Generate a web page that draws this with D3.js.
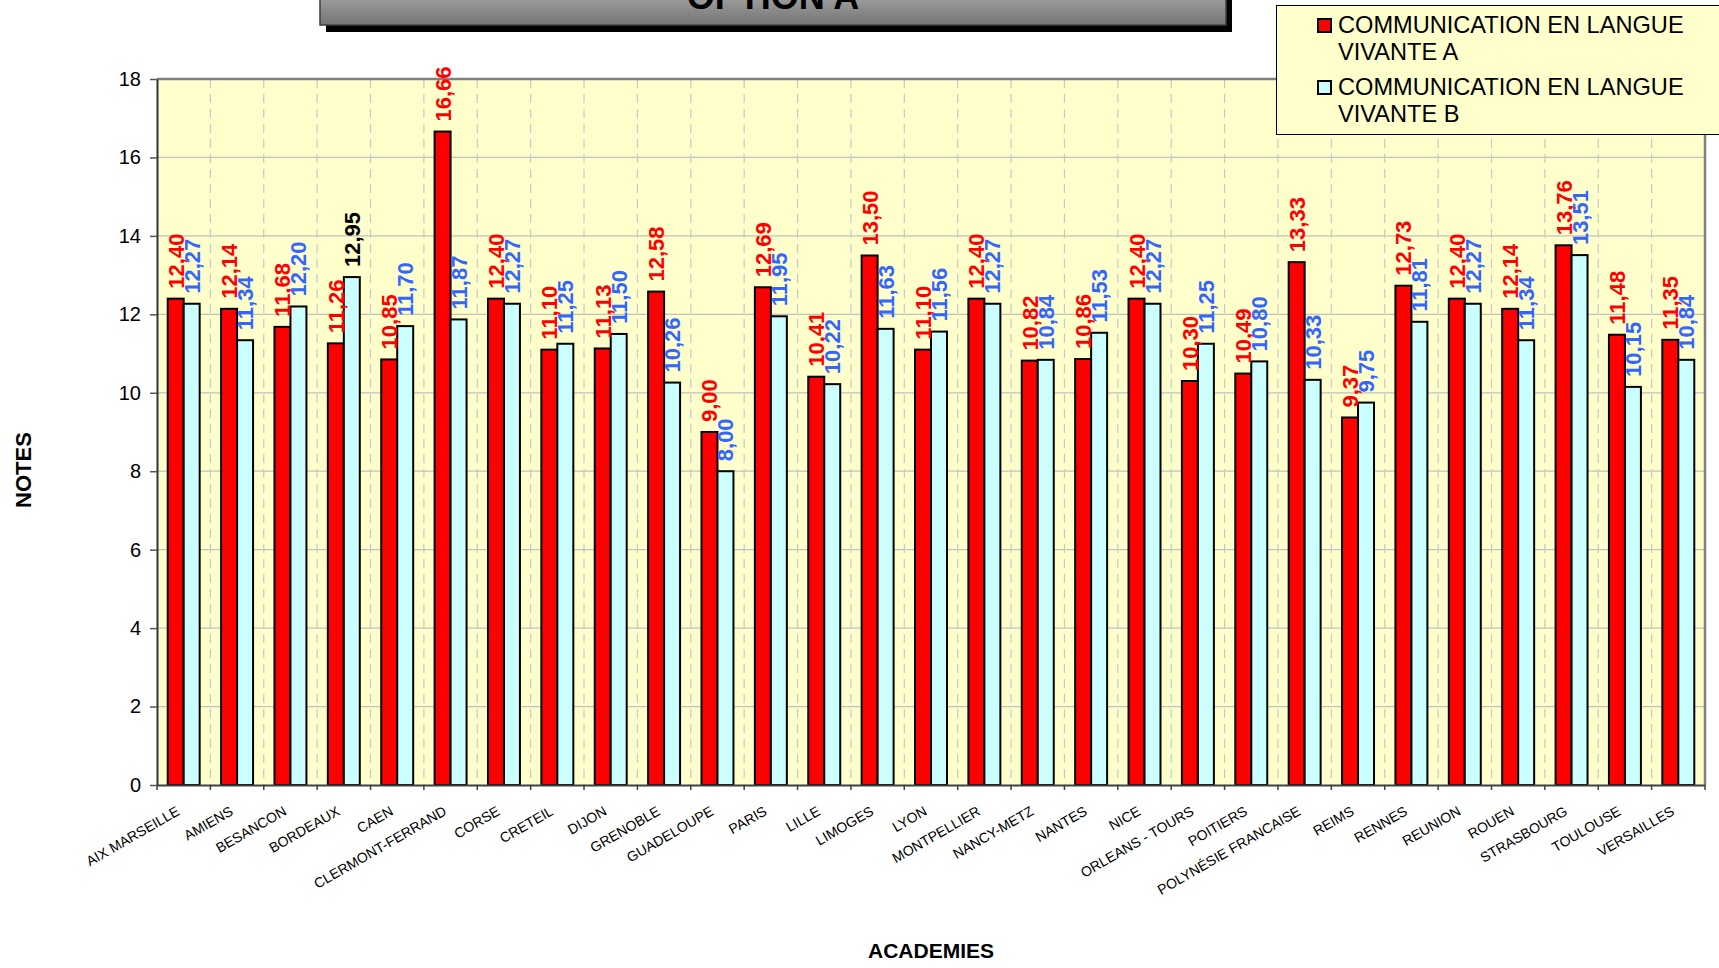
<!DOCTYPE html>
<html>
<head>
<meta charset="utf-8">
<script src="https://cdn.jsdelivr.net/npm/d3@7"></script>
<style>
body{margin:0;background:#fff;}
text{font-family:Arial,"Liberation Sans",sans-serif;}
</style>
</head>
<body>
<script>
var width = 1719, height = 968;

var academies = ["AIX MARSEILLE","AMIENS","BESANCON","BORDEAUX","CAEN","CLERMONT-FERRAND","CORSE","CRETEIL","DIJON","GRENOBLE","GUADELOUPE","PARIS","LILLE","LIMOGES","LYON","MONTPELLIER","NANCY-METZ","NANTES","NICE","ORLEANS - TOURS","POITIERS","POLYNÉSIE FRANCAISE","REIMS","RENNES","REUNION","ROUEN","STRASBOURG","TOULOUSE","VERSAILLES"];
var notesLVA = [12.40,12.14,11.68,11.26,10.85,16.66,12.40,11.10,11.13,12.58,9.00,12.69,10.41,13.50,11.10,12.40,10.82,10.86,12.40,10.30,10.49,13.33,9.37,12.73,12.40,12.14,13.76,11.48,11.35];
var notesLVB = [12.27,11.34,12.20,12.95,11.70,11.87,12.27,11.25,11.50,10.26,8.00,11.95,10.22,11.63,11.56,12.27,10.84,11.53,12.27,11.25,10.80,10.33,9.75,11.81,12.27,11.34,13.51,10.15,10.84];
var seriesKeys = ["A","B"];
var seriesNames = ["COMMUNICATION EN LANGUE VIVANTE A","COMMUNICATION EN LANGUE VIVANTE B"];
var yTicks = [0,2,4,6,8,10,12,14,16,18];

var fills = {A:"#ff0000", B:"#ccffff"};
var labelColors = {A:"#ff0000", B:"#3366ff"};
// one label is black in the original sheet
var blackLabel = {key:"B", academie:"BORDEAUX"};

var plot = {left:157, right:1705, top:79, bottom:785};

var svg = d3.select("body").append("svg")
    .attr("width",width)
    .attr("height",height);

var x = d3.scaleBand().domain(academies).range([plot.left,plot.right]).padding(0);
var x1 = d3.scaleBand().domain(seriesKeys).range([0,x.bandwidth()]).paddingInner(0).paddingOuter(0.67);
var y = d3.scaleLinear().domain([0,18]).range([plot.bottom,plot.top]);

// plot background
svg.append("rect")
    .attr("x",plot.left).attr("y",plot.top)
    .attr("width",plot.right-plot.left).attr("height",plot.bottom-plot.top)
    .style("fill","#ffffcc");

// horizontal grid
svg.append("g").selectAll("line")
    .data(yTicks.filter(function(t){return t>0 && t<18;}))
    .enter().append("line")
    .attr("x1",plot.left).attr("x2",plot.right)
    .attr("y1",function(d){return y(d);}).attr("y2",function(d){return y(d);})
    .style("stroke","#c0c0c0").style("stroke-width",1.2);

// vertical dashed grid between academies
svg.append("g").selectAll("line")
    .data(academies.slice(1))
    .enter().append("line")
    .attr("x1",function(d){return x(d);}).attr("x2",function(d){return x(d);})
    .attr("y1",plot.top).attr("y2",plot.bottom)
    .style("stroke","#c8c8c8").style("stroke-width",1.2)
    .style("stroke-dasharray","9,6");

// top and right border
svg.append("path")
    .attr("d","M"+plot.left+","+plot.top+"H"+plot.right+"V"+plot.bottom)
    .style("fill","none").style("stroke","#808080").style("stroke-width",2.5);

var rows = academies.map(function(a,i){
    return {academie:a, A:notesLVA[i], B:notesLVB[i]};
});

var groups = svg.append("g").selectAll("g")
    .data(rows)
    .enter().append("g")
    .attr("transform",function(d){return "translate("+x(d.academie)+",0)";});

groups.selectAll("rect")
    .data(function(d){return seriesKeys.map(function(k){return {key:k, value:d[k], academie:d.academie};});})
    .enter().append("rect")
    .attr("x",function(d){return x1(d.key);})
    .attr("y",function(d){return y(d.value);})
    .attr("width",x1.bandwidth())
    .attr("height",function(d){return y(0)-y(d.value);})
    .style("fill",function(d){return fills[d.key];})
    .style("stroke","#000")
    .style("stroke-width",2);

// value labels
groups.selectAll("text")
    .data(function(d){return seriesKeys.map(function(k){return {key:k, value:d[k], academie:d.academie};});})
    .enter().append("text")
    .attr("transform",function(d){
        var cx = x1(d.key)+x1.bandwidth()/2+8;
        return "translate("+cx+","+(y(d.value)-10)+") rotate(-90)";
    })
    .style("font-size","22px")
    .style("font-weight","bold")
    .style("fill",function(d){
        if(d.key==blackLabel.key && d.academie==blackLabel.academie) return "#000";
        return labelColors[d.key];
    })
    .text(function(d){return d.value.toFixed(2).replace(".",",");});

// y axis
var yAxis = svg.append("g")
    .attr("transform","translate("+plot.left+",0)")
    .call(d3.axisLeft(y).tickValues(yTicks).tickSize(7).tickSizeOuter(0).tickPadding(9));
yAxis.select(".domain").style("stroke","#333").style("stroke-width",2);
yAxis.selectAll(".tick line").style("stroke","#555").style("stroke-width",1.5);
yAxis.selectAll(".tick text").style("font-size","20px").style("fill","#000")
    .style("font-family","Arial, 'Liberation Sans', sans-serif");

// x axis
var xAxis = svg.append("g")
    .attr("transform","translate(0,"+plot.bottom+")")
    .call(d3.axisBottom(x).tickSize(0).tickSizeOuter(0));
xAxis.select(".domain").style("stroke","#404040").style("stroke-width",2);
xAxis.selectAll(".tick text")
    .attr("y",0).attr("dy",0)
    .attr("transform","translate(-3,29) rotate(-30)")
    .style("text-anchor","end")
    .style("font-size","14px")
    .style("fill","#000")
    .style("font-family","Arial, 'Liberation Sans', sans-serif");

// ticks at academy boundaries
svg.append("g").selectAll("line")
    .data(academies.concat(["__end"]))
    .enter().append("line")
    .attr("x1",function(d){return d=="__end" ? plot.right : x(d);})
    .attr("x2",function(d){return d=="__end" ? plot.right : x(d);})
    .attr("y1",plot.bottom).attr("y2",plot.bottom+5)
    .style("stroke","#404040").style("stroke-width",1.5);

// axis titles
svg.append("text")
    .attr("transform","translate(31,470) rotate(-90)")
    .style("text-anchor","middle")
    .style("font-size","22px").style("font-weight","bold")
    .text("NOTES");
svg.append("text")
    .attr("x",(plot.left+plot.right)/2).attr("y",958)
    .style("text-anchor","middle")
    .style("font-size","21px").style("font-weight","bold")
    .text("ACADEMIES");

// title box (cut off at top of page, as in the original)
var grad = svg.append("defs").append("linearGradient")
    .attr("id","titleGrad").attr("x1",0).attr("x2",0).attr("y1",0).attr("y2",1);
grad.append("stop").attr("offset","0%").attr("stop-color","#b8b8b8");
grad.append("stop").attr("offset","100%").attr("stop-color","#747474");
svg.append("rect")
    .attr("x",326).attr("y",-14).attr("width",906).attr("height",46)
    .style("fill","#000");
svg.append("rect")
    .attr("x",320).attr("y",-20).attr("width",906).attr("height",45)
    .style("fill","url(#titleGrad)").style("stroke","#404040").style("stroke-width",1.5);
svg.append("text")
    .attr("x",773).attr("y",9)
    .style("text-anchor","middle")
    .style("font-size","36px").style("font-weight","bold")
    .text("OPTION A");

// legend
var legend = svg.append("g");
legend.append("rect")
    .attr("x",1276.5).attr("y",5.5).attr("width",470).attr("height",129)
    .style("fill","#ffffcc").style("stroke","#000").style("stroke-width",1);
var items = legend.selectAll("g.item")
    .data(seriesKeys)
    .enter().append("g")
    .attr("class","item")
    .attr("transform",function(d,i){return "translate(0,"+(i*62)+")";});
items.append("rect")
    .attr("x",1318).attr("y",19).attr("width",13).attr("height",13)
    .style("fill",function(d){return fills[d];})
    .style("stroke","#000").style("stroke-width",2);
var lt = items.append("text")
    .attr("x",1338).attr("y",33)
    .style("font-size","23.6px").style("fill","#000");
lt.selectAll("tspan")
    .data(function(d,i){
        var w = seriesNames[i].split(" ");
        return [w.slice(0,3).join(" "), w.slice(3).join(" ")];
    })
    .enter().append("tspan")
    .attr("x",1338)
    .attr("dy",function(d,i){return i==0 ? 0 : 27;})
    .text(function(d){return d;});
</script>
</body>
</html>
